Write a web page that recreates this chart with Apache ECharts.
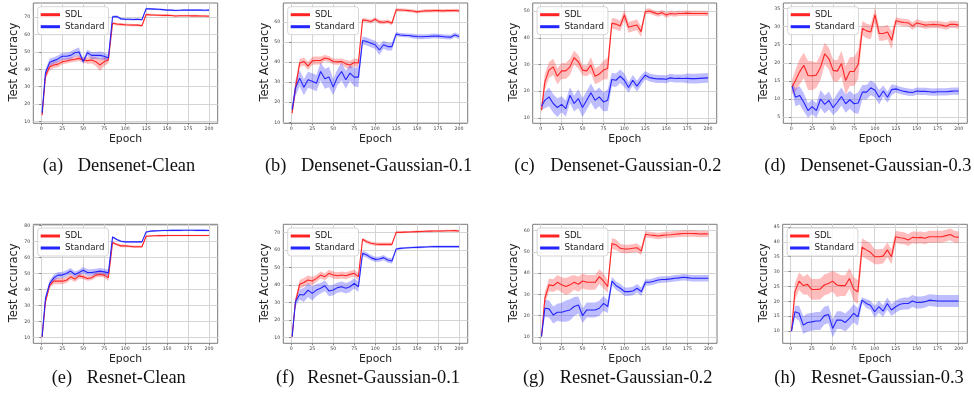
<!DOCTYPE html>
<html><head><meta charset="utf-8">
<script src="https://cdn.jsdelivr.net/npm/echarts@6/dist/echarts.min.js"></script>
<style>html,body{margin:0;padding:0;background:#fff}#c{width:974px;height:398px}</style>
</head><body><div id="c"></div>
<script>
const epochs = [1,5,10,15,20,25,30,35,40,45,50,55,60,65,70,75,80,85,90,95,100,105,110,115,120,125,130,135,140,145,150,155,160,165,170,175,180,185,190,195,200];
const xTicks = [0,25,50,75,100,125,150,175,200];

// (a) Densenet-Clean
const aSdlMean = [13.7,36,41.5,42.5,43,44.4,44.8,45.4,45.8,46.3,45.4,45,45.4,44.4,42.5,44.4,45.4,66.5,66,65.8,65.6,65.5,65.4,65.4,65,71.5,71.3,71.2,71.1,71,71,70.9,70.6,70.8,70.8,70.8,70.7,70.7,70.6,70.6,70.5];
const aSdlStd  = [1.5,2,2,1.8,1.8,1.5,1.5,1.5,1.5,1.5,1.5,1.8,2,2.5,3.5,2.5,2,0.8,0.8,0.8,0.7,0.7,0.7,0.7,0.7,0.7,0.6,0.6,0.6,0.6,0.6,0.6,0.6,0.6,0.6,0.6,0.6,0.6,0.6,0.6,0.6];
const aStdMean = [15,38,44,45,46,47.5,47.5,48,49.5,50,44.5,49.5,48,48,48,47.5,46.5,70.2,70.3,69,68.8,68.8,68.6,68.8,68.5,74.8,74.7,74.6,74.5,74.3,74,74,73.8,73.9,74,74.1,74,74,74,73.9,74];
const aStdStd  = [1.5,2,2.2,2,2,2,2,2.2,2.2,2.5,1.5,1.8,2,2,2.2,2.2,2,0.7,0.7,0.6,0.6,0.6,0.6,0.6,0.6,0.5,0.5,0.5,0.5,0.5,0.5,0.5,0.5,0.5,0.5,0.5,0.5,0.5,0.5,0.5,0.5];
// (b) Densenet-Gaussian-0.1
const bSdlMean = [14.6,27,39.5,40.3,38,40.6,40.8,40.8,42,41.5,40.3,40.1,40.3,39.1,38.5,39.8,39.5,61,60.7,60.2,61.3,60,59.8,60.2,59.3,66,65.9,65.8,65.6,65.4,65,65.3,65.5,65.5,65.6,65.6,65.5,65.6,65.6,65.7,65.5];
const bSdlStd  = [1.5,3,2,2,2,2,2,2,1.5,1.5,1.5,1.5,1.5,2,2,2,2,1,1,1,1,1,1,1,1,0.8,0.8,0.8,0.8,0.8,0.8,0.8,0.8,0.8,0.8,0.8,0.8,0.8,0.8,0.8,0.8];
const bStdMean = [16.3,27,32,27.5,31.2,30.4,29.5,35.3,31.7,32.5,27.5,32.4,35.3,31.2,34.5,32.5,32.5,50.7,50.2,49.4,48.6,46,48.6,47.7,47.7,53.9,53.5,53.3,53.2,52.9,52.7,52.6,52.7,52.8,53,52.9,52.7,52.5,52.4,53.5,52.7];
const bStdStd  = [1.5,4,4,4,4,4,4,4.5,5,5,4,4,4.5,4.5,4,4.5,5,2,2,2,2,2.5,2,2,2,1,1,1,1,1.2,1.2,1.2,1.2,1.2,1.2,1.2,1.2,1.2,1.2,1.2,1.2];
// (c) Densenet-Gaussian-0.2
const cSdlMean = [12.9,23.5,27.9,29.1,25.6,27.6,27.6,29.1,32.6,31,27.9,27.6,29.75,25.6,26.4,27.9,28.5,45.4,45.1,44.4,48.5,43.9,44.4,44.8,42.3,49.75,50,49.4,48.9,49.4,48.5,49.1,48.9,49.1,49.1,49.2,49.1,49.1,49.1,49.1,49];
const cSdlStd  = [1.5,3,3,3,3,3,3,3,2.5,2.5,2,2,3,3,3,3.5,4,2,2,2,2,2,2,2,2,1,1,1,1,1,1,1,1,1,1,1,1,1,1,1,1];
const cStdMean = [14.4,16.6,17.9,15.4,13.9,15.1,13.5,18.5,15.4,17.25,13.9,16.6,19.4,16.6,17.9,16,16.6,24.4,24.1,25.6,24.1,21.4,24.1,21.9,24.1,26,25.1,24.8,24.6,24.6,24.5,25,24.75,24.8,24.75,24.8,24.7,24.7,24.8,24.9,25];
const cStdStd  = [1.5,3,3.5,3.5,3.5,3,3,3,3,3.5,3.5,3.5,3.5,3.5,3.5,3.5,4,2.5,2.5,2.5,2.5,2,2,2,2,1.5,1.5,1.5,1.5,1.5,1.5,1.5,1.5,1.5,1.5,1.8,1.8,1.8,1.8,1.8,1.8];
// (d) Densenet-Gaussian-0.3
const dSdlMean = [13.3,15.1,17.5,19.3,16.5,16.4,16.6,18.8,22.5,21.1,17.9,17.7,19.8,15.1,17.6,17.6,19.6,29.5,28.8,28.5,33.2,28.1,28.1,28.5,26.2,31.6,31.3,31.1,31,30.1,31,30.7,30.4,30.5,30.6,30.5,30.4,30.1,30.6,30.6,30.4];
const dSdlStd  = [2,3,3.5,3.5,4,4,3.5,3.5,3,3,3,3,3.5,4,4,4,4,2,2,2,2,2,2,2,2.5,1,1,1,1,1,1,1,1,1,1,1,1,1,1,1,1];
const dStdMean = [13.5,10.5,11,9.1,6.8,7.9,6.8,10,8.5,9.6,7.6,9.1,10.7,8.7,9.8,8.7,8.9,11.9,11.9,13.1,12.4,10.5,12.2,10.5,12.6,12.8,12.4,12.1,11.9,11.8,12.2,12.1,12.1,12,11.9,12,12,12,12.1,12.2,12.2];
const dStdStd  = [1,2.5,2.5,2.5,2,2,2,2.5,2.5,2.5,2,2.5,2.5,2.5,2.5,2.5,3,2,2,2,2,2,1.5,1.5,1.5,1,1,1,1,1,1,1,1,1,1,1,1,1,1,1,1];
// (e) Resnet-Clean
const eSdlMean = [10.4,32.3,42.7,45.2,45.2,45.2,45.8,47.9,46.5,48.5,47.9,46.9,47.3,49,49.4,49,47.3,69.4,68.1,67.3,67.3,67.1,66.7,66.7,66.7,73.3,73.5,73.6,73.7,73.7,73.8,73.8,73.8,73.8,73.8,73.8,73.8,73.8,73.8,73.8,73.8];
const eSdlStd  = [0.5,1.5,2,2,2,2,1.8,1.8,1.8,1.8,1.5,1.5,1.5,1.5,1.5,1.5,2,0.8,0.8,0.8,0.8,0.8,0.8,0.8,0.8,0.5,0.5,0.5,0.5,0.5,0.5,0.5,0.5,0.5,0.5,0.5,0.5,0.5,0.5,0.5,0.5];
const eStdMean = [10.4,34.4,43.75,47.3,49,49,50,51.5,49.4,50.6,52,50.6,50.6,51,51.5,51,50.4,72.9,71.25,70.2,69.8,69.8,69.8,69.8,69.8,76,76.5,76.7,76.8,76.9,76.9,77,77,77,77.1,77.1,77.1,77,77,77,76.9];
const eStdStd  = [0.5,1.5,2,2,2,2,2,2,1.8,1.8,2,2,2,2,2,2,2,0.6,0.6,0.6,0.6,0.6,0.6,0.6,0.6,0.5,0.5,0.5,0.5,0.5,0.5,0.5,0.5,0.5,0.5,0.5,0.5,0.5,0.5,0.5,0.5];
// (f) Resnet-Gaussian-0.1
const fSdlMean = [10.4,30.4,40.4,41.5,42.9,42.3,43.8,45.7,44.8,46.7,45.7,45.3,45.7,45.3,46.1,46.7,44.8,66.2,64.8,63.9,63.5,63.3,63.3,63.3,63.3,70.2,70.2,70.3,70.4,70.5,70.6,70.7,70.8,70.9,71,71,71,71.1,71.1,71.2,71];
const fSdlStd  = [0.5,2,2.5,2.5,2.5,2.5,2,2,2,2,2,2,2,2,2,2,2,1,1,1,1,1,1,1,1,0.6,0.6,0.6,0.6,0.6,0.6,0.6,0.6,0.6,0.6,0.6,0.6,0.6,0.6,0.6,0.6];
const fStdMean = [10.4,30.4,34.6,34.3,37.1,35.2,37.1,38.1,39.6,36.6,37.1,38.5,39,38.1,39,40.95,39,58.2,57.2,55.7,54.7,54.9,55.7,54.3,53.8,60.6,61,61.2,61.4,61.5,61.6,61.7,61.8,61.9,62,62,62,62,62,62,62];
const fStdStd  = [0.5,2.5,3,4,4,4,3.5,3,3,3,3,3,3,3,3,3,3,1.5,1.5,1.5,1.5,1.5,1.5,1.5,1.5,0.6,0.6,0.6,0.6,0.6,0.6,0.6,0.6,0.6,0.6,0.6,0.6,0.6,0.6,0.6,0.6];
// (g) Resnet-Gaussian-0.2
const gSdlMean = [10.2,28.2,34.5,34.1,35.7,34.5,33.7,34.5,35.7,34.8,36.3,35.7,35.7,35.7,38.4,36.3,33.7,54,53.3,51.7,51.4,51.4,51.7,52,50.4,58.3,58,57.8,57.5,57.8,58,58.1,58.3,58.5,58.7,58.7,58.7,58.6,58.4,58.5,58.4];
const gSdlStd  = [0.5,3,3,3,3.5,3.5,4,4,3.5,3.5,3.5,3.5,3.5,3.5,3.5,3.5,3,2.5,2.5,2,2,2,2,2,2,1.5,1.5,1.5,1.5,1.5,1.5,1.5,1.5,1.5,1.5,1.5,1.5,1.5,1.5,1.5,1.5];
const gStdMean = [10.2,23.5,23.2,20.3,21.6,21.6,22.2,22.7,24.3,25,20,22.7,22.7,22.7,23.5,25.8,24.3,36.3,34.1,32.9,31.3,31.3,31.6,32.9,31.3,35.7,35.7,36.2,36.8,37,37.1,37.3,37.6,37.8,38.1,37.9,37.6,37.6,37.6,37.6,37.6];
const gStdStd  = [0.5,4,4,4,4,4.5,5,5,4.5,4,3.5,3.5,3.5,3.5,3.5,3.5,3,2,2,2,2,2,2,2,2,1.5,1.5,1.5,1.5,1.5,1.5,1.5,1.5,1.5,1.5,1.5,1.5,1.5,1.5,1.5,1.5];
// (h) Resnet-Gaussian-0.3
const hSdlMean = [10,23.2,26.8,25.3,25.7,24,24,24.1,25.5,26,26.8,25.5,25.3,25.3,27.7,24.1,23.2,38.2,37.3,36.5,35,35,35.2,37.3,35,41.7,41.4,41.2,40.6,41.5,41.4,41.5,41.2,41.7,41.7,41.7,41.7,42.1,42.5,41.7,41.5];
const hSdlStd  = [0.5,3,3,3,3.5,3.5,3.5,3.5,3.5,3.5,3.5,4,3.5,3.5,3.5,4,4,3,3,3,2.5,2.5,2.5,2.5,2.5,2,2,2,2,2,2,2,2,2,2,2,2,2,2,2,2];
const hStdMean = [10,16.5,16,12,12.9,13.1,13.4,13.4,15.2,15.6,10.9,13.7,13.7,12.9,14.3,16,14.8,20.4,19.3,18.7,16.5,18.2,16.7,19.3,17.1,18.2,19,19.3,19.3,20.1,19.6,19.6,19.9,20.4,20.3,20.1,20.1,20.1,20.1,20.1,20.1];
const hStdStd  = [0.5,2,2.5,3,3,3,3,3,3,3,3,3,3,3,3,3,3,1,1.5,1.5,2,2,2,2,2,2,2,2,2,2,2,2,2,2,2,2,2,2,2,2,2];

const yTicksA = [10,20,30,40,50,60,70];
const yTicksB = [10,20,30,40,50,60];
const yTicksC = [10,20,30,40,50];
const yTicksD = [5,10,15,20,25,30,35];
const yTicksE = [10,20,30,40,50,60,70,80];
const yTicksF = [10,20,30,40,50,60,70];
const yTicksG = [10,20,30,40,50,60];
const yTicksH = [10,15,20,25,30,35,40,45];
const yRanges = [[9,78.1],[9.5,69.4],[8,53],[3.3,36.5],[6.3,80.8],[6.6,74.8],[7,63],[5.9,45.9]];
const xRange = [-9.5,210.3];

const tags = ['(a)','(b)','(c)','(d)','(e)','(f)','(g)','(h)'];
const captions = ['Densenet-Clean','Densenet-Gaussian-0.1','Densenet-Gaussian-0.2','Densenet-Gaussian-0.3','Resnet-Clean','Resnet-Gaussian-0.1','Resnet-Gaussian-0.2','Resnet-Gaussian-0.3'];
const seriesNames = ['SDL','Standard'];

const panelData = [
  [aSdlMean,aSdlStd,aStdMean,aStdStd,yTicksA],
  [bSdlMean,bSdlStd,bStdMean,bStdStd,yTicksB],
  [cSdlMean,cSdlStd,cStdMean,cStdStd,yTicksC],
  [dSdlMean,dSdlStd,dStdMean,dStdStd,yTicksD],
  [eSdlMean,eSdlStd,eStdMean,eStdStd,yTicksE],
  [fSdlMean,fSdlStd,fStdMean,fStdStd,yTicksF],
  [gSdlMean,gSdlStd,gStdMean,gStdStd,yTicksG],
  [hSdlMean,hSdlStd,hStdMean,hStdStd,yTicksH]
];

// layout (pixels)
const gridL = [33.3,283.3,532.7,783.3,33.3,283.3,532.7,782.7];
const gridR = [217.7,467.7,716.7,967.3,217.7,467.7,717,967.3];
const gridT = [3,3,3,3,224.3,224.3,224.3,224.3];
const gridH = [120.3,120.3,120.3,120.3,119,119,119,119];
const ylabX = [14.5,265,513.7,763.8,14.5,265,513.7,763.8];
const tagX  = [42.7,265,514.3,764.3,51.7,276,523,774.3];
const capX  = [77.7,301,550.3,800.3,86.7,307.3,559.7,811];
const capY  = [166.2,166.2,166.2,166.2,378,378,378,378];

const RED = '#ff2424', BLUE = '#2424ff';
const FONT = 'DejaVu Sans';

const grids=[], xAxes=[], yAxes=[], series=[], legends=[], graphics=[];

function band(i, mean, sd, color) {
  const n = epochs.length;
  return {
    type:'custom', xAxisIndex:i, yAxisIndex:i, silent:true, z:2,
    data: epochs.map((e,k)=>[e, mean[k]-sd[k], mean[k]+sd[k]]),
    encode:{x:0, y:[1,2]},
    renderItem: function(params, api){
      if (params.dataIndex !== 0) return null;
      const pts=[];
      for (let k=0;k<n;k++) pts.push(api.coord([epochs[k], mean[k]+sd[k]]));
      for (let k=n-1;k>=0;k--) pts.push(api.coord([epochs[k], mean[k]-sd[k]]));
      return {type:'polygon', shape:{points:pts}, style:{fill:color, opacity:0.3}};
    }
  };
}
function line(i, name, mean, color) {
  return {
    type:'line', name:name, xAxisIndex:i, yAxisIndex:i, z:3,
    data: epochs.map((e,k)=>[e, mean[k]]),
    showSymbol:false, symbol:'none', color:color,
    lineStyle:{width:1.1, color:color}, silent:true
  };
}

for (let i=0;i<8;i++){
  const [sm, ss, tm, ts, yt] = panelData[i];
  grids.push({left:gridL[i], top:gridT[i], width:gridR[i]-gridL[i], height:gridH[i],
    show:true, borderColor:'#7a7a7a', borderWidth:1, backgroundColor:'#fff', containLabel:false});
  xAxes.push({type:'value', gridIndex:i, min:xRange[0], max:xRange[1],
    axisLine:{show:false},
    axisTick:{show:true, length:2, lineStyle:{color:'#666', width:0.8}, customValues:xTicks},
    axisLabel:{show:true, fontSize:4.7, fontFamily:FONT, color:'#444', margin:3, customValues:xTicks},
    splitLine:{show:true, lineStyle:{color:'#d4d4d4', width:1}}});
  yAxes.push({type:'value', gridIndex:i, min:yRanges[i][0], max:yRanges[i][1],
    axisLine:{show:false},
    axisTick:{show:true, length:2, lineStyle:{color:'#666', width:0.8}, customValues:yt},
    axisLabel:{show:true, fontSize:4.7, fontFamily:FONT, color:'#444', margin:3, customValues:yt},
    splitLine:{show:true, lineStyle:{color:'#d4d4d4', width:1}}});
  series.push(band(i, sm, ss, RED));
  series.push(line(i, seriesNames[0], sm, RED));
  series.push(band(i, tm, ts, BLUE));
  series.push(line(i, seriesNames[1], tm, BLUE));
  legends.push({data:seriesNames, orient:'vertical', left:gridL[i]+4.4, top:gridT[i]+3.7,
    icon:'rect', itemWidth:19.3, itemHeight:3, itemGap:2, selectedMode:false,
    backgroundColor:'rgba(255,255,255,0.85)', borderColor:'#cccccc', borderWidth:0.8, borderRadius:3,
    padding:[3,4,3,3],
    textStyle:{fontSize:8.7, fontFamily:FONT, color:'#222', lineHeight:10}});
  const cx = (gridL[i]+gridR[i])/2;
  const cy = gridT[i]+gridH[i]/2;
  graphics.push({type:'text', x:ylabX[i], y:cy-1, rotation:Math.PI/2,
    style:{text:'Test Accuracy', fontSize:11.5, fontFamily:FONT, fill:'#222', align:'center', verticalAlign:'middle'}});
  graphics.push({type:'text', x:cx, y:gridT[i]+gridH[i]+16,
    style:{text:'Epoch', fontSize:10.8, fontFamily:FONT, fill:'#222', align:'center', verticalAlign:'middle'}});
  graphics.push({type:'text', x:tagX[i], y:capY[i],
    style:{text:tags[i], fontSize:18.4, fontFamily:'Liberation Serif', fill:'#111', align:'left', verticalAlign:'middle'}});
  graphics.push({type:'text', x:capX[i], y:capY[i],
    style:{text:captions[i], fontSize:18.4, fontFamily:'Liberation Serif', fill:'#111', align:'left', verticalAlign:'middle'}});
}

const chart = echarts.init(document.getElementById('c'), null, {renderer:'canvas'});
chart.setOption({
  animation:false, backgroundColor:'#fff',
  grid:grids, xAxis:xAxes, yAxis:yAxes, series:series, legend:legends, graphic:graphics
});
</script></body></html>
